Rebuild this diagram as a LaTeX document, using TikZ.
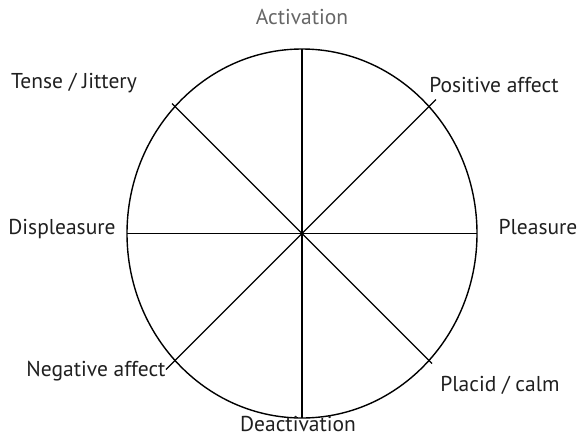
\documentclass[tikz,border=0pt]{standalone}
\usepackage{fontspec}
\setmainfont{PT Sans}
\begin{document}
\begin{tikzpicture}[x=1pt,y=-1pt,
  lbl/.style={font=\fontsize{21.5}{24}\selectfont, text=black!88, anchor=base, inner sep=0pt},
  axis/.style={line width=1.4pt, black}]
\useasboundingbox (0,0) rectangle (579,437);
\coordinate (c) at (302,233.5);
\draw[axis] (c) ellipse [x radius=175, y radius=184.5];
\coordinate (n) at (302,49);
\coordinate (s) at (302,418);
\coordinate (w) at (127,233.5);
\coordinate (e) at (477,233.5);
\coordinate (ne) at (436,99.5);
\coordinate (nw) at (172,103.5);
\coordinate (sw) at (166,369.5);
\coordinate (se) at (432,363.5);
\foreach \p in {n,s,w,e,ne,nw,sw,se} \draw[axis] (c) -- (\p);
\node[lbl, text=black!60] (act) at (302,24) {Activation};
\node[lbl] (ten) at (74,88) {Tense / Jittery};
\node[lbl] (pos) at (494,92) {Positive affect};
\node[lbl] (dis) at (62,234) {Displeasure};
\node[lbl] (ple) at (538,234) {Pleasure};
\node[lbl] (neg) at (96,376) {Negative affect};
\node[lbl] (pla) at (500,391) {Placid / calm};
\node[lbl, text depth=0pt] (dea) at (298,431) {Deactivation};
\end{tikzpicture}
\end{document}
